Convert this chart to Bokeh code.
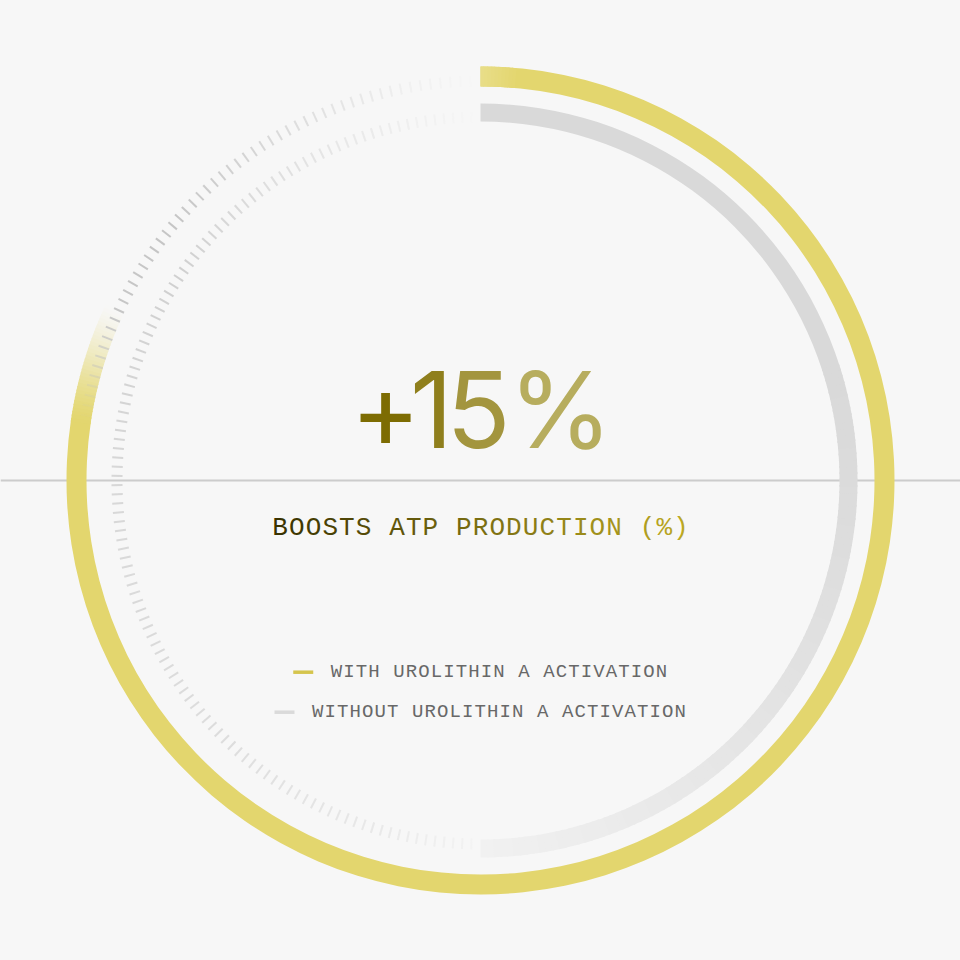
import numpy as np
from bokeh.plotting import figure
from bokeh.models import Range1d
from bokeh.embed import file_html
from bokeh.resources import INLINE
from bokeh.core.properties import value

# ---------------- data ----------------
headline = "+15%"
subtitle = "BOOSTS ATP PRODUCTION (%)"
series_labels = ["WITH UROLITHIN A ACTIVATION", "WITHOUT UROLITHIN A ACTIVATION"]
series_share = [0.82, 0.50]          # share of a full turn swept by each ring
series_colors = ["#e3d66e", "#d9d9d9"]
swatch_colors = ["#d5c54d", "#dadada"]
tick_count = 250                      # ticks per full turn of the background dials

# ---------------- style ----------------
BG = "#f7f7f7"
RING_R = [(394, 414), (359, 377)]     # inner/outer radius of each ring
TICK_LEN = 11
TICK_COLOR = "#c2c2c2"
HALF = 480


def hex2rgb(h):
    h = h.lstrip("#")
    return np.array([int(h[i:i + 2], 16) for i in (0, 2, 4)], dtype=float)


def rgb2hex(c):
    c = np.clip(np.round(c), 0, 255).astype(int)
    return "#%02x%02x%02x" % tuple(c)


def blend(c1, c2, t):
    return rgb2hex(hex2rgb(c1) * (1 - t) + hex2rgb(c2) * t)


def smooth(t):
    t = np.clip(t, 0, 1)
    return t * t * (3 - 2 * t)


def rad(a):
    return np.deg2rad(np.asarray(a, dtype=float)).tolist()


def wedge(ri, ro, a0, a1, col):
    a0 = np.atleast_1d(a0)
    a1 = np.atleast_1d(a1)
    col = col if isinstance(col, list) else [col] * len(a0)
    p.annular_wedge(x=[0] * len(a0), y=[0] * len(a0), inner_radius=ri, outer_radius=ro,
                    start_angle=rad(a0), end_angle=rad(a1), direction="anticlock",
                    fill_color=col, line_color=None)


p = figure(width=2 * HALF, height=2 * HALF, x_range=Range1d(-HALF, HALF),
           y_range=Range1d(-HALF, HALF),
           output_backend="svg", toolbar_location=None, min_border=0,
           x_axis_location=None, y_axis_location=None,
           background_fill_color=BG, border_fill_color=BG, outline_line_color=None)
p.grid.visible = False

# horizontal rule behind everything
p.segment(x0=[-HALF], y0=[0], x1=[HALF], y1=[0], line_color="#cccccc", line_width=2)

START = 90.0
sweeps = [s * 360.0 for s in series_share]

# ---------- background tick dials ----------
step = 360.0 / tick_count
ang = (np.arange(tick_count) + 0.5) * step

FADE = 17.0
end_y = START - sweeps[0] + 360.0      # end of the yellow ring expressed in [0, 360)


def yellow_alpha(theta):
    t = np.clip((theta - end_y) / FADE, 0, 1)
    return 0.5 * t + 0.5 * smooth(t)


# inner dial (left half, where grey ring is absent)
end_g = START - sweeps[1] + 360.0
m_in = (ang > START) & (ang < end_g)
a_in = np.interp(ang[m_in], [90, 100, 145, 180, 225, 255, 270],
                 [0.0, 0.12, 0.75, 0.6, 0.5, 0.25, 0.05])
r0, r1 = RING_R[1][0] - 1, RING_R[1][0] - 1 + TICK_LEN
th = np.deg2rad(ang[m_in])
p.segment(x0=r0 * np.cos(th), y0=r0 * np.sin(th), x1=r1 * np.cos(th), y1=r1 * np.sin(th),
          line_color=TICK_COLOR, line_alpha=a_in, line_width=2)

# ---------- grey ring (without) ----------
ri, ro = RING_R[1]
solid_until = START - 0.4 * sweeps[1]
wedge(ri, ro, solid_until - 0.3, START, series_colors[1])
edges = np.arange(START - sweeps[1], solid_until + 1e-9, 1.0)
g_start, g_end, g_col = [], [], []
for a0, a1 in zip(edges[:-1], edges[1:]):
    mid = 0.5 * (a0 + a1)
    s = (START - mid) / sweeps[1]
    f = ((max(s - 0.4, 0) / 0.6) ** 1.3) * 0.8
    g_start.append(a0)
    g_end.append(min(a1 + 0.3, solid_until))
    g_col.append(blend(series_colors[1], BG, f))
wedge(ri, ro, g_start, g_end, g_col)

# ---------- yellow ring (with) ----------
ri, ro = RING_R[0]
y_end = START - sweeps[0]
wedge(ri, ro, y_end + FADE - 0.3, START, series_colors[0])
edges = np.linspace(y_end, y_end + FADE, 35)
y_start, y_stop, y_col = [], [], []
for a0, a1 in zip(edges[:-1], edges[1:]):
    mid = 0.5 * (a0 + a1)
    a = float(yellow_alpha(mid + 360.0))
    y_start.append(a0)
    y_stop.append(min(a1 + 0.2, y_end + FADE))
    y_col.append(blend(BG, series_colors[0], a))
wedge(ri, ro, y_start, y_stop, y_col)
# soft highlight at the start of the yellow ring
hl = np.linspace(START - 5, START, 11)
wedge(ri, ro, hl[:-1], np.minimum(hl[1:] + 0.1, START),
      [blend(series_colors[0], "#ffffff", 0.18 * (k / 10)) for k in range(1, 11)])

# outer dial (gap of the yellow ring, visible through its faded end)
m_out = (ang > START) & (ang < end_y + FADE)
a_out = np.interp(ang[m_out], [90, 100, 140, 180], [0.0, 0.12, 0.95, 0.9])
a_out = a_out * (1 - yellow_alpha(ang[m_out]))
r0, r1 = RING_R[0][0], RING_R[0][0] + TICK_LEN
th = np.deg2rad(ang[m_out])
p.segment(x0=r0 * np.cos(th), y0=r0 * np.sin(th), x1=r1 * np.cos(th), y1=r1 * np.sin(th),
          line_color=TICK_COLOR, line_alpha=a_out, line_width=2)

# ---------- headline ----------
head_x = [-95, -49, -2, 80]
head_cols = ["#7d6c02", "#8f7f1d", "#a3953e", "#b7ad5e"]
p.text(x=head_x, y=[71] * len(headline), text=list(headline), text_color=head_cols,
       text_font=value("Inter"), text_font_size="106px", text_align="center",
       text_baseline="alphabetic")

# ---------- subtitle ----------
sub_step = 16.7
n = len(subtitle)
sx = [0 + (i - (n - 1) / 2) * sub_step for i in range(n)]
scol = [rgb2hex(hex2rgb("#3a3300") * (1 - i / (n - 1)) + hex2rgb("#bba822") * (i / (n - 1)))
        for i in range(n)]
p.text(x=sx, y=[-47] * n, text=list(subtitle), text_color=scol,
       text_font=value("Liberation Mono"), text_font_size="26px", text_align="center",
       text_baseline="alphabetic")

# ---------- legend ----------
leg_step = 12.5
sw_len, sw_gap = 20, 17
for i, lab in enumerate(series_labels):
    row_y = -191.7 - 40 * i
    total = sw_len + sw_gap + len(lab) * leg_step
    left = 0 - total / 2
    p.segment(x0=[left], y0=[row_y], x1=[left + sw_len], y1=[row_y],
              line_color=swatch_colors[i], line_width=3.5, line_cap="butt")
    lx = [left + sw_len + sw_gap + leg_step / 2 + j * leg_step for j in range(len(lab))]
    p.text(x=lx, y=[row_y] * len(lab), text=list(lab), text_color="#686868",
           text_font=value("Liberation Mono"), text_font_size="19px", text_align="center",
           text_baseline="alphabetic")

html = file_html(p, INLINE, title="ATP production")
html = html.replace("<body>", '<body style="margin:0;background:#f7f7f7;">')
open("out.html", "w").write(html)
